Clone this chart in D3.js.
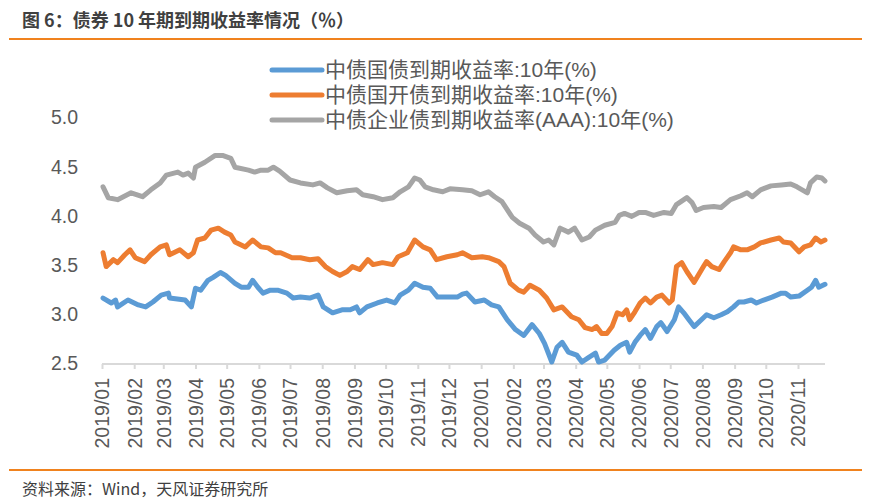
<!DOCTYPE html>
<html><head><meta charset="utf-8">
<script src="https://cdn.jsdelivr.net/npm/d3@7"></script>
<style>
html,body{margin:0;padding:0;background:#fff;}
svg{display:block;}
</style></head>
<body>
<svg id="chart" width="872" height="504"></svg>
<script>
const titleText = "图 6：债券 10 年期到期收益率情况（％）";
const sourceText = "资料来源：Wind，天风证券研究所";
const seriesNames = ["中债国债到期收益率:10年(%)", "中债国开债到期收益率:10年(%)", "中债企业债到期收益率(AAA):10年(%)"];
const seriesColors = ["#5b9bd5", "#ed7d31", "#a5a5a5"];
const yTicks = [2.5, 3.0, 3.5, 4.0, 4.5, 5.0];
const xTickLabels = ["2019/01","2019/02","2019/03","2019/04","2019/05","2019/06","2019/07","2019/08","2019/09","2019/10","2019/11","2019/12","2020/01","2020/02","2020/03","2020/04","2020/05","2020/06","2020/07","2020/08","2020/09","2020/10","2020/11"];
const xDomain = ["2019-01-01", "2020-11-27"];

const govDates = ["2019-01-02","2019-01-10","2019-01-14","2019-01-16","2019-01-26","2019-02-05","2019-02-12","2019-02-19","2019-02-27","2019-03-06","2019-03-07","2019-03-22","2019-03-28","2019-04-01","2019-04-06","2019-04-13","2019-04-18","2019-04-25","2019-04-30","2019-05-09","2019-05-15","2019-05-22","2019-05-26","2019-05-31","2019-06-05","2019-06-12","2019-06-19","2019-06-28","2019-07-04","2019-07-11","2019-07-20","2019-07-28","2019-08-02","2019-08-11","2019-08-20","2019-08-28","2019-09-03","2019-09-06","2019-09-13","2019-09-23","2019-10-02","2019-10-10","2019-10-15","2019-10-23","2019-10-29","2019-11-06","2019-11-13","2019-11-20","2019-11-29","2019-12-09","2019-12-14","2019-12-18","2019-12-26","2020-01-04","2020-01-11","2020-01-18","2020-01-26","2020-02-03","2020-02-11","2020-02-19","2020-02-26","2020-03-02","2020-03-09","2020-03-14","2020-03-19","2020-03-25","2020-04-02","2020-04-07","2020-04-14","2020-04-20","2020-04-23","2020-04-29","2020-05-08","2020-05-14","2020-05-20","2020-05-23","2020-05-28","2020-06-02","2020-06-07","2020-06-12","2020-06-18","2020-06-22","2020-06-28","2020-07-05","2020-07-09","2020-07-14","2020-07-19","2020-07-24","2020-07-31","2020-08-05","2020-08-12","2020-08-19","2020-08-25","2020-08-31","2020-09-05","2020-09-10","2020-09-17","2020-09-22","2020-09-29","2020-10-07","2020-10-16","2020-10-20","2020-10-25","2020-11-02","2020-11-10","2020-11-14","2020-11-18","2020-11-21","2020-11-27"];
const govValues = [3.16,3.11,3.14,3.07,3.14,3.09,3.07,3.12,3.19,3.21,3.16,3.14,3.07,3.26,3.24,3.34,3.37,3.42,3.39,3.31,3.27,3.27,3.34,3.27,3.21,3.24,3.24,3.21,3.16,3.17,3.16,3.19,3.07,3.01,3.04,3.04,3.07,3.01,3.07,3.11,3.14,3.11,3.19,3.24,3.31,3.27,3.26,3.17,3.17,3.17,3.20,3.21,3.12,3.14,3.09,3.07,2.94,2.84,2.78,2.89,2.80,2.70,2.51,2.66,2.71,2.61,2.58,2.51,2.56,2.60,2.51,2.53,2.63,2.68,2.71,2.61,2.71,2.78,2.84,2.75,2.87,2.91,2.82,2.94,3.07,3.01,2.94,2.87,2.94,2.99,2.96,2.99,3.02,3.07,3.12,3.12,3.14,3.11,3.14,3.17,3.21,3.21,3.17,3.18,3.24,3.27,3.34,3.27,3.30];

const cdbDates = ["2019-01-02","2019-01-05","2019-01-12","2019-01-16","2019-01-23","2019-01-28","2019-02-02","2019-02-11","2019-02-17","2019-02-26","2019-03-04","2019-03-07","2019-03-17","2019-03-25","2019-03-30","2019-04-03","2019-04-10","2019-04-16","2019-04-23","2019-04-29","2019-05-05","2019-05-09","2019-05-19","2019-05-26","2019-06-03","2019-06-10","2019-06-17","2019-06-22","2019-07-03","2019-07-11","2019-07-20","2019-07-28","2019-08-04","2019-08-11","2019-08-18","2019-08-25","2019-08-30","2019-09-06","2019-09-14","2019-09-19","2019-09-28","2019-10-08","2019-10-13","2019-10-22","2019-10-29","2019-11-06","2019-11-13","2019-11-19","2019-11-29","2019-12-09","2019-12-14","2019-12-23","2020-01-02","2020-01-08","2020-01-18","2020-01-23","2020-01-29","2020-02-06","2020-02-11","2020-02-17","2020-02-26","2020-03-04","2020-03-11","2020-03-19","2020-03-28","2020-04-04","2020-04-10","2020-04-17","2020-04-21","2020-04-26","2020-05-01","2020-05-06","2020-05-11","2020-05-16","2020-05-20","2020-05-23","2020-05-28","2020-06-02","2020-06-07","2020-06-12","2020-06-18","2020-06-23","2020-06-30","2020-07-03","2020-07-07","2020-07-12","2020-07-17","2020-07-24","2020-07-29","2020-08-02","2020-08-05","2020-08-10","2020-08-17","2020-08-22","2020-08-28","2020-08-31","2020-09-07","2020-09-13","2020-09-20","2020-09-26","2020-10-06","2020-10-14","2020-10-18","2020-10-25","2020-11-02","2020-11-07","2020-11-13","2020-11-18","2020-11-23","2020-11-27"];
const cdbValues = [3.62,3.48,3.55,3.52,3.60,3.65,3.57,3.53,3.60,3.68,3.70,3.60,3.65,3.58,3.62,3.75,3.77,3.85,3.87,3.83,3.80,3.73,3.68,3.75,3.68,3.67,3.62,3.62,3.57,3.57,3.55,3.56,3.48,3.43,3.39,3.43,3.48,3.45,3.55,3.50,3.52,3.50,3.58,3.62,3.75,3.68,3.65,3.55,3.58,3.60,3.62,3.57,3.58,3.57,3.53,3.48,3.31,3.24,3.22,3.29,3.24,3.16,3.04,3.07,2.97,2.94,2.86,2.84,2.87,2.80,2.80,2.87,3.01,2.99,3.04,2.94,3.02,3.11,3.16,3.11,3.17,3.19,3.11,3.14,3.48,3.52,3.43,3.32,3.41,3.48,3.53,3.48,3.45,3.53,3.62,3.68,3.65,3.65,3.68,3.72,3.75,3.77,3.73,3.72,3.63,3.68,3.70,3.77,3.73,3.75];

const corpDates = ["2019-01-02","2019-01-07","2019-01-16","2019-01-29","2019-02-09","2019-02-17","2019-02-26","2019-03-04","2019-03-15","2019-03-20","2019-03-25","2019-03-30","2019-04-01","2019-04-10","2019-04-20","2019-04-27","2019-05-05","2019-05-09","2019-05-22","2019-05-28","2019-06-03","2019-06-10","2019-06-15","2019-06-21","2019-07-01","2019-07-11","2019-07-23","2019-07-30","2019-08-06","2019-08-15","2019-08-25","2019-09-03","2019-09-09","2019-09-19","2019-09-28","2019-10-08","2019-10-15","2019-10-23","2019-10-29","2019-11-03","2019-11-08","2019-11-16","2019-11-25","2019-12-02","2019-12-14","2019-12-23","2019-12-31","2020-01-08","2020-01-14","2020-01-21","2020-01-31","2020-02-07","2020-02-16","2020-02-22","2020-03-01","2020-03-06","2020-03-11","2020-03-17","2020-03-25","2020-03-31","2020-04-07","2020-04-14","2020-04-20","2020-04-29","2020-05-09","2020-05-13","2020-05-18","2020-05-25","2020-06-01","2020-06-07","2020-06-15","2020-06-25","2020-07-02","2020-07-07","2020-07-17","2020-07-22","2020-07-26","2020-08-02","2020-08-12","2020-08-19","2020-08-28","2020-09-07","2020-09-13","2020-09-18","2020-09-26","2020-10-06","2020-10-16","2020-10-25","2020-10-31","2020-11-05","2020-11-10","2020-11-13","2020-11-19","2020-11-24","2020-11-27"];
const corpValues = [4.29,4.18,4.16,4.23,4.19,4.26,4.33,4.41,4.44,4.41,4.43,4.38,4.49,4.54,4.61,4.61,4.58,4.49,4.46,4.44,4.46,4.46,4.49,4.45,4.36,4.33,4.31,4.33,4.28,4.23,4.25,4.26,4.21,4.19,4.16,4.18,4.24,4.29,4.38,4.36,4.29,4.26,4.24,4.27,4.26,4.25,4.21,4.24,4.19,4.14,3.98,3.92,3.87,3.80,3.73,3.75,3.70,3.87,3.83,3.87,3.75,3.78,3.85,3.90,3.93,4.00,4.02,3.99,4.03,4.03,4.00,4.03,4.02,4.11,4.18,4.13,4.05,4.08,4.09,4.08,4.16,4.20,4.23,4.19,4.26,4.30,4.31,4.32,4.29,4.26,4.23,4.33,4.39,4.38,4.35];

const parse = d3.timeParse("%Y-%m-%d");
const series = [
  {name: seriesNames[0], color: seriesColors[0], data: govDates.map((d,i)=>({date: parse(d), value: govValues[i]}))},
  {name: seriesNames[1], color: seriesColors[1], data: cdbDates.map((d,i)=>({date: parse(d), value: cdbValues[i]}))},
  {name: seriesNames[2], color: seriesColors[2], data: corpDates.map((d,i)=>({date: parse(d), value: corpValues[i]}))}
];

const svg = d3.select("#chart");
const plotLeft = 102, plotRight = 825, plotTop = 117, plotBottom = 363;
const x = d3.scaleTime().domain(xDomain.map(parse)).range([plotLeft, plotRight]);
const y = d3.scaleLinear().domain([2.5, 5.0]).range([plotBottom, plotTop]);

const fontMix = "'Liberation Sans', Arial, 'Noto Sans CJK SC', sans-serif";

// Title
svg.append("text").attr("x", 22).attr("y", 27)
  .attr("font-family", "'Noto Sans CJK SC', sans-serif").attr("font-weight", "bold")
  .attr("font-size", 18).attr("fill", "#404040").text(titleText);
svg.append("line").attr("x1", 9).attr("x2", 862).attr("y1", 39).attr("y2", 39)
  .attr("stroke", "#f0821e").attr("stroke-width", 2);

// Footer
svg.append("line").attr("x1", 9).attr("x2", 862).attr("y1", 470).attr("y2", 470)
  .attr("stroke", "#f0821e").attr("stroke-width", 2);
svg.append("text").attr("x", 22).attr("y", 495)
  .attr("font-family", "'Noto Sans CJK SC', sans-serif")
  .attr("font-size", 16).attr("fill", "#404040").text(sourceText);

// Y axis (labels only)
const yAxis = d3.axisLeft(y).tickValues(yTicks).tickFormat(d3.format(".1f")).tickSize(0).tickPadding(0);
const yg = svg.append("g").attr("transform", "translate(78,0)").call(yAxis);
yg.select(".domain").remove();
yg.selectAll("text").attr("font-family", fontMix).attr("font-size", 19.5).attr("fill", "#595959").attr("dy", "0.35em");

// X axis
const monthTicks = xTickLabels.map(s => parse(s.replace("/", "-") + "-01"));
const xAxis = d3.axisBottom(x).tickValues(monthTicks).tickFormat((d,i)=>xTickLabels[i]).tickSize(5).tickSizeOuter(0);
const xg = svg.append("g").attr("transform", `translate(0,${plotBottom + 1})`).call(xAxis);
xg.select(".domain").attr("stroke", "#d9d9d9").attr("stroke-width", 2)
  .attr("d", `M${plotLeft},0H${plotRight}`);
xg.selectAll(".tick line").attr("stroke", "#d9d9d9").attr("stroke-width", 2);
xg.selectAll(".tick text")
  .attr("font-family", fontMix).attr("font-size", 19.5).attr("fill", "#595959")
  .attr("transform", "rotate(-90)")
  .attr("text-anchor", "end")
  .attr("x", -14).attr("y", 0).attr("dy", "0.35em");

// Lines
const line = d3.line().x(d => x(d.date)).y(d => y(d.value)).curve(d3.curveLinear);
svg.append("g").selectAll("path").data(series.slice().reverse()).join("path")
  .attr("d", d => line(d.data))
  .attr("fill", "none").attr("stroke", d => d.color)
  .attr("stroke-width", 5).attr("stroke-linejoin", "round").attr("stroke-linecap", "round");

// Legend
const legendY = [70, 95, 120];
const lg = svg.append("g").selectAll("g").data(series).join("g")
  .attr("transform", (d,i) => `translate(0,${legendY[i]})`);
lg.append("line").attr("x1", 272).attr("x2", 322).attr("y1", 0).attr("y2", 0)
  .attr("stroke", d => d.color).attr("stroke-width", 5).attr("stroke-linecap", "round");
lg.append("text").attr("x", 325).attr("y", 0).attr("dy", "0.35em")
  .attr("font-family", fontMix).attr("font-size", 21).attr("fill", "#595959")
  .text(d => d.name);
</script>
</body></html>
